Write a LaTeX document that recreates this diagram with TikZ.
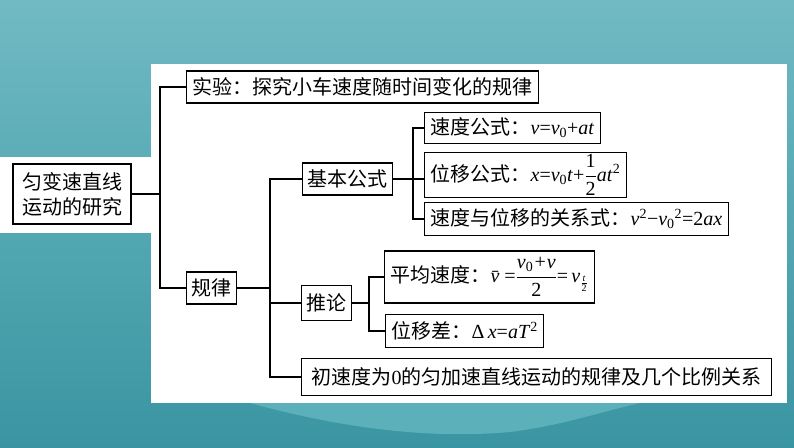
\documentclass[tikz,border=0pt]{standalone}
\usepackage{fontspec}
\usepackage{amsmath}
\setmainfont{Liberation Serif}
\newfontfamily\cjk{Noto Sans CJK SC}
\usetikzlibrary{calc}
\definecolor{bgtop}{HTML}{72BAC3}
\definecolor{bgmid}{HTML}{56AAB4}
\definecolor{bgbot}{HTML}{3A95A2}
\definecolor{bgwave}{HTML}{5BB0BA}

\begin{document}
\begin{tikzpicture}[x=1pt,y=-1pt,
  box/.style={draw,line width=1.3pt,fill=white,anchor=west,inner xsep=6pt,
    inner ysep=0pt,font=\cjk\fontsize{20}{25}\selectfont},
  link/.style={line width=1.3pt}]
  \useasboundingbox (0,0) rectangle (794,447);

  % background slide
  \shade[top color=bgtop,bottom color=bgmid] (0,0) rectangle (794,200);
  \shade[top color=bgmid,bottom color=bgbot] (0,200) rectangle (794,447);
  \fill[bgwave] (250,403) .. controls (330,425) and (420,440) .. (510,432)
    .. controls (560,426) and (600,412) .. (640,403) -- cycle;
  % white panels
  \fill[white] (151,64) rectangle (787,403);
  \fill[white] (0,157) rectangle (151,233);

  % nodes
  \node[box,anchor=center,align=center,minimum width=118pt,minimum height=60pt]
    (root) at (72,194) {匀变速直线\\运动的研究};
  \node[box,minimum height=32pt] (exp) at (186,87)
    {实验：探究小车速度随时间变化的规律};
  \node[box,minimum height=32pt,inner xsep=5pt] (law) at (186,288) {规律};
  \node[box,minimum height=32pt,inner xsep=5pt] (basic) at (302,179) {基本公式};
  \node[box,minimum height=35pt,inner xsep=5pt] (infer) at (301,303) {推论};
  \node[box,minimum height=37pt,inner xsep=10pt] (ratio) at (301,377)
    {初速度为{\rmfamily 0}的匀加速直线运动的规律及几个比例关系};
  \node[box,minimum height=31pt] (vel) at (424,128)
    {速度公式：{\rmfamily\textit{v}=\textit{v}\textsubscript{0}+\textit{at}}};
  \node[box,minimum height=45pt] (disp) at (424,175)
    {位移公式：{\rmfamily\textit{x}=\textit{v}\textsubscript{0}\textit{t}+$\dfrac{\text{1}}{\text{2}}$\textit{at}\textsuperscript{2}}};
  \node[box,minimum height=33pt] (relate) at (424,219)
    {速度与位移的关系式：{\rmfamily\textit{v}\textsuperscript{2}−\textit{v}\textsubscript{0}\textsuperscript{2}=2\textit{ax}}};
  \node[box,minimum height=52pt] (avg) at (384,277)
    {平均速度：{\rmfamily\textit{\=v}=$\dfrac{\text{\itshape v\textsubscript{\upshape 0}+v}}{\text{2}}$=\,\textit{v}$_{\frac{\text{\itshape t}}{\text{2}}}$}};
  \node[box,minimum height=33pt] (diff) at (385,331)
    {位移差：{\rmfamily Δ\,\textit{x}=\textit{aT}\textsuperscript{2}}};

  % junctions
  \coordinate (j1) at (160,194);
  \coordinate (j2) at (270,288);
  \coordinate (j3) at (413,179);
  \coordinate (j4) at (369,303);

  % connectors
  \draw[link] (root.east) -- (j1);
  \draw[link] (j1) |- (exp.west);
  \draw[link] (j1) |- (law.west);
  \draw[link] (law.east) -- (j2);
  \draw[link] (j2) |- (basic.west);
  \draw[link] (j2) |- (infer.west);
  \draw[link] (j2) |- (ratio.west);
  \draw[link] (basic.east) -- (disp.west |- basic.east);
  \draw[link] (j3) |- (vel.west);
  \draw[link] (j3) |- (relate.west);
  \draw[link] (infer.east) -- (j4);
  \draw[link] (j4) |- (avg.west);
  \draw[link] (j4) |- (diff.west);
\end{tikzpicture}
\end{document}
